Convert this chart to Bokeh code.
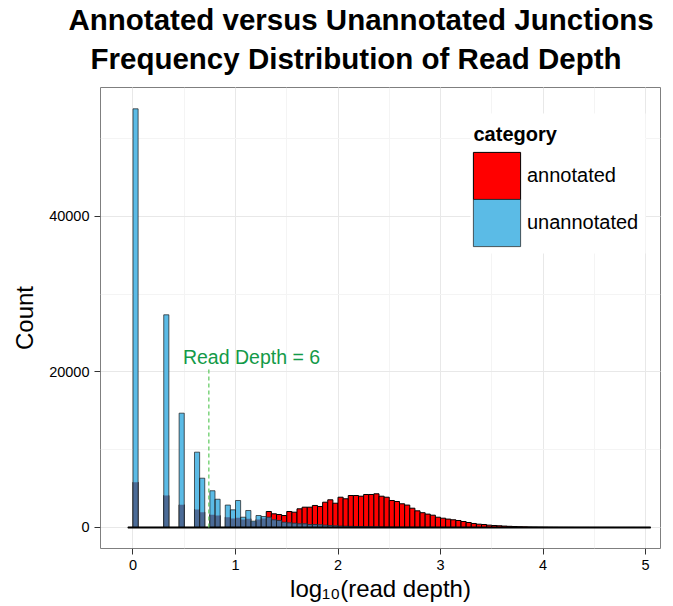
import numpy as np
from bokeh.plotting import figure
from bokeh.models import (ColumnDataSource, Range1d, SingleIntervalTicker, Title, Label,
                          Legend, LegendItem, BoxAnnotation)
from bokeh.embed import file_html
from bokeh.resources import INLINE

# ---- data -------------------------------------------------------------
bin_width = 0.05
bin_left = np.round(np.arange(-0.05, 5.0001, bin_width), 2)   # log10(read depth) bin edges

annotated = [
    0, 5820, 0, 0, 0, 0, 0, 4110, 0, 0,                               # -0.05 .. 0.40
    2915, 0, 0, 2310, 1970, 0, 1650, 1540, 0, 1320,                   # 0.45 .. 0.90
    1150, 1245, 1030, 1120, 700, 1030, 1150, 2055, 1760, 1670,        # 0.95 .. 1.40
    1540, 2055, 1965, 2400, 2610, 2610, 2830, 2700, 3250, 3560,       # 1.45 .. 1.90
    3120, 3890, 3690, 4110, 4110, 4020, 4240, 4240, 4330, 4020,       # 1.95 .. 2.40
    3890, 3470, 3340, 3045, 2880, 2480, 2140, 1900, 1720, 1580,       # 2.45 .. 2.90
    1320, 1195, 1080, 990, 900, 770, 640, 515, 425, 385,              # 2.95 .. 3.40
    300, 257, 220, 180, 150, 120, 100, 80, 65, 55,                    # 3.45 .. 3.90
    45, 38, 30, 25, 20, 18, 15, 12, 10, 9,                            # 3.95 .. 4.40
    8, 7, 6, 5, 5, 4, 4, 3, 3, 2,                                     # 4.45 .. 4.90
    2, 1,                                                             # 4.95 .. 5.00
]
unannotated = [
    0, 53800, 0, 0, 0, 0, 0, 27330, 0, 0,
    14690, 0, 0, 9680, 6335, 0, 4720, 3630, 0, 2880,
    2270, 3470, 1320, 2185, 810, 1540, 1410, 1320, 990, 900,
    680, 600, 550, 475, 475, 385, 385, 350, 300, 257,
    220, 190, 170, 150, 130, 115, 100, 90, 80, 70,
    60, 52, 45, 40, 35, 30, 26, 22, 19, 16,
    14, 12, 10, 9, 8, 7, 6, 5, 4, 4,
    3, 3, 2, 2, 1, 1, 1, 1, 1, 1,
    1, 0, 0, 0, 0, 0, 0, 0, 0, 0,
    0, 0, 0, 0, 0, 0, 0, 0, 0, 0,
    0, 0,
]
categories = ["annotated", "unannotated"]
legend_title = "category"
title_lines = ["Annotated versus Unannotated Junctions",
               "Frequency Distribution of Read Depth"]
x_ticks_interval = 1
y_ticks_interval = 20000
threshold_x = 0.74          # read depth cut-off line
threshold_top = 20400
threshold_text = "Read Depth = 6"
label_pos = (1.156, 21970)

FONT = "Liberation Sans"
RED = "#FF0000"
BLUE = "#5BBBE6"
OVERLAP = "#4B6B97"

src = ColumnDataSource(dict(
    left=bin_left,
    right=bin_left + bin_width,
    ann=annotated,
    unann=unannotated,
    both=np.minimum(annotated, unannotated),
))

p = figure(width=673, height=606,
           x_range=Range1d(-0.317, 5.146), y_range=Range1d(-2700, 56540),
           output_backend="svg", toolbar_location=None, title=None,
           min_border_left=100, min_border_right=13,
           min_border_top=87, min_border_bottom=58)
p.background_fill_color = "white"
p.border_fill_color = "white"
p.outline_line_color = "#7F7F7F"
p.outline_line_width = 1

xt = SingleIntervalTicker(interval=x_ticks_interval, num_minor_ticks=2)
yt = SingleIntervalTicker(interval=y_ticks_interval, num_minor_ticks=2)
p.xaxis.ticker = xt
p.xgrid.ticker = xt
p.yaxis.ticker = yt
p.ygrid.ticker = yt

for g in (p.xgrid, p.ygrid):
    g.grid_line_color = "#E8E8E8"
    g.minor_grid_line_color = "#F4F4F4"

for ax in (p.xaxis, p.yaxis):
    ax.axis_line_color = None
    ax.major_tick_out = 6
    ax.major_tick_in = 0
    ax.major_tick_line_color = "#333333"
    ax.minor_tick_line_color = None
    ax.major_label_text_font = FONT
    ax.major_label_text_font_size = "14.5px"
    ax.major_label_text_color = "black"
    ax.axis_label_text_font = FONT
    ax.axis_label_text_font_size = "24px"
    ax.axis_label_text_font_style = "normal"
    ax.axis_label_text_color = "black"
    ax.major_label_standoff = 5

p.xaxis.axis_label = "log\u2081\u2080(read depth)"
p.yaxis.axis_label = "Count"
p.xaxis.axis_label_standoff = 2
p.yaxis.axis_label_standoff = 8

# ---- bars ---------------------------------------------------------------
red = p.quad(left="left", right="right", bottom=0, top="ann", source=src,
             fill_color=RED, line_color="black", line_width=1)
blue_fill = p.quad(left="left", right="right", bottom=0, top="unann", source=src,
                   fill_color=BLUE, line_color=None)
p.quad(left="left", right="right", bottom=0, top="both", source=src,
       fill_color=OVERLAP, line_color=None)
blue_line = p.quad(left="left", right="right", bottom=0, top="unann", source=src,
                   fill_color=None, line_color="#1a1a1a", line_alpha=0.7, line_width=1)
p.segment(x0=[bin_left[0]], x1=[bin_left[-1] + bin_width], y0=[0], y1=[0],
          line_color="black", line_width=2)

# ---- threshold annotation ----------------------------------------------------
p.segment(x0=[threshold_x], x1=[threshold_x], y0=[0], y1=[threshold_top],
          line_color="#5BC85B", line_width=1.2, line_dash="4 3")
p.add_layout(Label(x=label_pos[0], y=label_pos[1], text=threshold_text,
                   text_align="center", text_baseline="middle",
                   text_font=FONT, text_font_size="19.5px", text_color="#139A48"))

# ---- legend (white panel + two stacked single-item legends) -------------------
p.add_layout(BoxAnnotation(left=370, right=545, bottom=295, top=435,
                           left_units="screen", right_units="screen",
                           bottom_units="screen", top_units="screen",
                           fill_color="white", fill_alpha=1, line_color=None))

common = dict(glyph_width=59, glyph_height=59, label_height=59,
              label_standoff=1, spacing=0, padding=8, margin=0,
              label_text_font=FONT, label_text_font_size="20px",
              label_text_color="black",
              border_line_color=None, background_fill_alpha=0)
leg_red = Legend(items=[LegendItem(label=categories[0], renderers=[red])],
                 location=(367, 343), **common)
leg_blue = Legend(items=[LegendItem(label=categories[1], renderers=[blue_fill, blue_line])],
                  location=(367, 296), **common)
p.add_layout(leg_red)
p.add_layout(leg_blue)
p.add_layout(Label(x=373, y=415, x_units="screen", y_units="screen",
                   text=legend_title, text_font=FONT, text_font_size="20px",
                   text_font_style="bold", text_color="black",
                   text_baseline="alphabetic", text_align="left"))

# ---- titles --------------------------------------------------------------------
t2 = Title(text=title_lines[1], align="left", offset=-10,
           text_font=FONT, text_font_size="29.5px", text_font_style="bold",
           text_color="black", standoff=26)
t1 = Title(text=title_lines[0], align="left", offset=-32,
           text_font=FONT, text_font_size="29.5px", text_font_style="bold",
           text_color="black", standoff=-19)
p.add_layout(t2, "above")
p.add_layout(t1, "above")

open("out.html", "w").write(file_html(p, INLINE))
